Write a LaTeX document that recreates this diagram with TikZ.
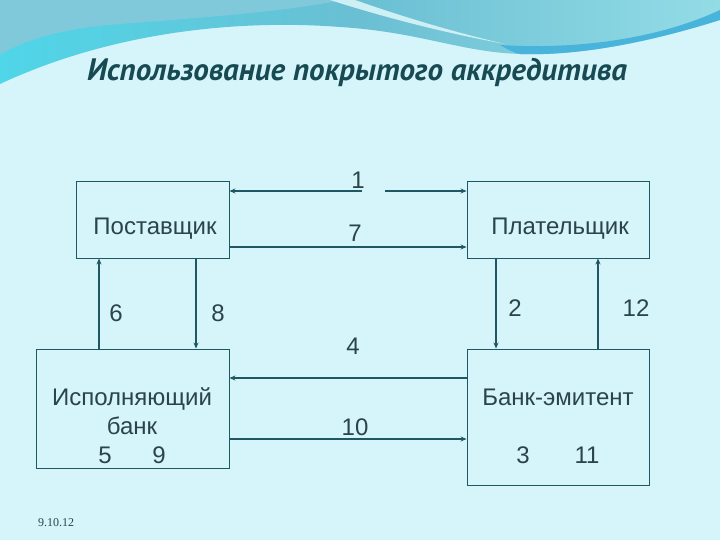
\documentclass[tikz,border=0pt]{standalone}
\usepackage{fontspec}
\setmainfont{Liberation Sans}
\newfontfamily\titlefont{PT Sans}
\newfontfamily\datefont{Liberation Serif}
\usetikzlibrary{arrows.meta}
\definecolor{bg}{HTML}{D5F5FA}
\definecolor{lineC}{HTML}{1F5862}
\definecolor{txtC}{HTML}{2B4449}
\definecolor{titleC}{HTML}{174A52}
\definecolor{tealA}{HTML}{6ABFD3}
\definecolor{tealB}{HTML}{4FD6E8}
\definecolor{tealC}{HTML}{93DCE6}
\definecolor{bandC}{HTML}{48B4DC}
\tikzset{
  box/.style={draw=lineC, line width=0.9pt, inner sep=0pt},
  lbl/.style={text=txtC, font=\fontsize{24}{28}\selectfont, inner sep=0pt},
  conn/.style={draw=lineC, line width=1.3pt, -{Stealth[length=6pt,width=5pt]}},
  connb/.style={conn, line width=1.9pt}
}
\begin{document}
\begin{tikzpicture}[x=1pt,y=-1pt]
\useasboundingbox (0,0) rectangle (720,540);
\fill[bg] (0,0) rectangle (720,540);
% top decoration
\shade[left color=tealB, right color=tealC, middle color=tealA]
  (0,0) -- (720,0) -- (720,20) .. controls (650,42) and (580,56) .. (520,54)
  .. controls (460,52) and (420,32) .. (340,27) .. controls (250,20) and (120,28) .. (0,84) -- cycle;
\fill[tealA!85!white] (0,0) -- (340,0) .. controls (300,10) and (200,18) .. (120,24) .. controls (60,28) and (20,42) .. (0,55) -- cycle;
\fill[white!55!tealC] (330,0) .. controls (380,16) and (440,32) .. (505,44) .. controls (445,30) and (395,14) .. (355,0) -- cycle;
\fill[bandC] (500,45) .. controls (580,50) and (660,38) .. (720,10) -- (720,20) .. controls (650,42) and (580,56) .. (520,54) .. controls (512,52) and (505,48) .. (500,45) -- cycle;
% title
\node[text=titleC, font=\titlefont\bfseries\itshape\fontsize{31}{34}\selectfont, inner sep=0pt] (title) at (357,72) {Использование покрытого аккредитива};
% boxes
\node[box, minimum width=153pt, minimum height=77pt] (post) at (152.5,219.5) {};
\node[box, minimum width=182pt, minimum height=77pt] (plat) at (558,219.5) {};
\node[box, minimum width=193pt, minimum height=119pt] (isp) at (132.5,408.5) {};
\node[box, minimum width=182pt, minimum height=136pt] (emit) at (558,417) {};
% box texts
\node[lbl] (tpost) at (155,229) {Поставщик};
\node[lbl] (tplat) at (560,229) {Плательщик};
\node[lbl, align=center, font=\fontsize{24}{29}\selectfont] (tisp) at (132,426) {Исполняющий\\банк\\5\hspace{1.7em}9};
\node[lbl] (temit) at (558,397) {Банк-эмитент};
\node[lbl] (t3) at (523,455) {3};
\node[lbl] (t11) at (587,455) {11};
% helper coordinates
\coordinate (c1L) at (362,191);
\coordinate (c1R) at (385,191);
\coordinate (y7) at (0,247);
\coordinate (y4) at (0,378);
\coordinate (y10) at (0,439);
\coordinate (x6) at (99,0);
\coordinate (x8) at (196,0);
\coordinate (x2) at (496,0);
\coordinate (x12) at (598,0);
% connectors
\draw[conn] (c1L) -- (post.east |- c1L);
\draw[connb] (c1R) -- (plat.west |- c1R);
\draw[conn] (post.east |- y7) -- (plat.west |- y7);
\draw[connb] (emit.west |- y4) -- (isp.east |- y4);
\draw[conn] (isp.east |- y10) -- (emit.west |- y10);
\draw[connb] (isp.north -| x6) -- (post.south -| x6);
\draw[conn] (post.south -| x8) -- (isp.north -| x8);
\draw[connb] (plat.south -| x2) -- (emit.north -| x2);
\draw[connb] (emit.north -| x12) -- (plat.south -| x12);
% connector labels
\node[lbl] (l1) at (358,180) {1};
\node[lbl] (l7) at (355,233) {7};
\node[lbl] (l6) at (116,313) {6};
\node[lbl] (l8) at (218,313) {8};
\node[lbl] (l4) at (353,346) {4};
\node[lbl] (l2) at (515,308) {2};
\node[lbl] (l12) at (636,308) {12};
\node[lbl] (l10) at (355,427) {10};
% date
\node[text=txtC, font=\datefont\fontsize{12}{13}\selectfont, inner sep=0pt] (date) at (56,523) {9.10.12};
\end{tikzpicture}
\end{document}
